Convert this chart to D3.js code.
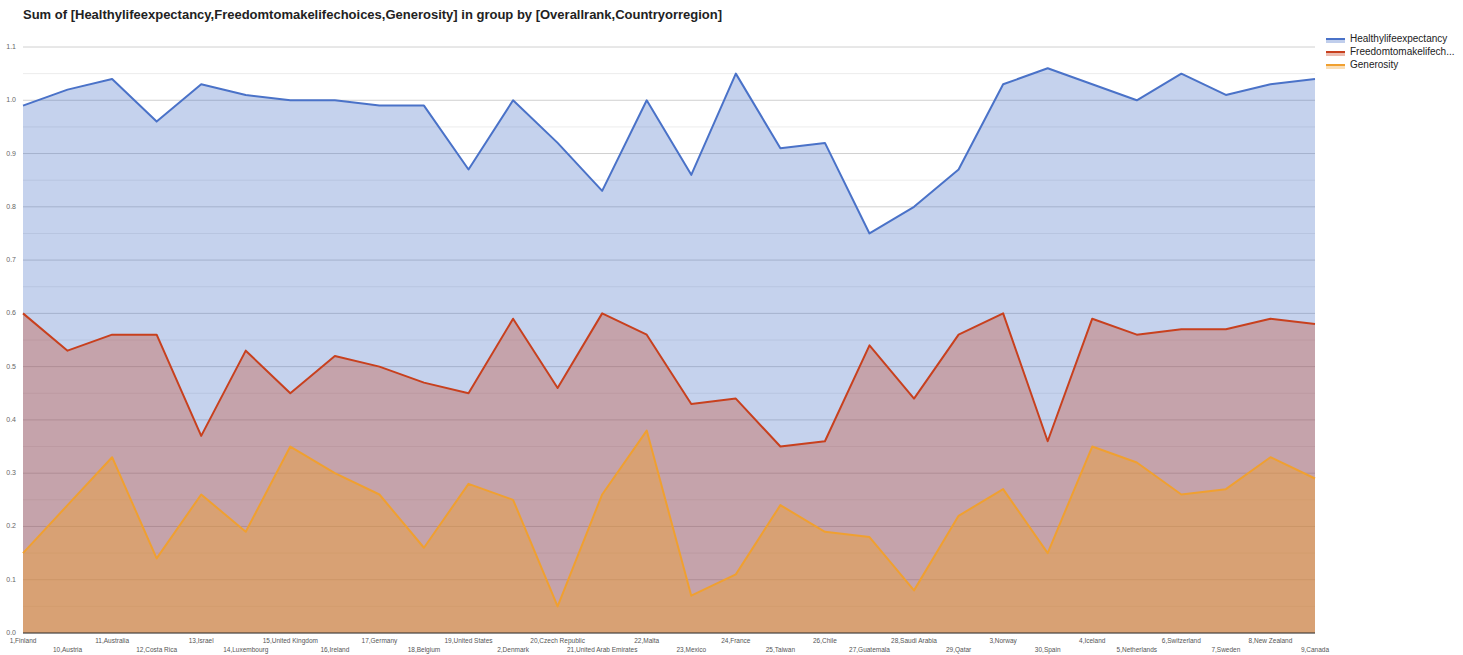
<!DOCTYPE html>
<html>
<head>
<meta charset="utf-8">
<script src="https://cdn.jsdelivr.net/npm/d3@7"></script>
<style>
  body { margin: 0; background: #fff; font-family: Arial, "Liberation Sans", sans-serif; }
  svg { display: block; }
</style>
</head>
<body>
<svg id="chart"></svg>
<script>
// data
var categories = ["1,Finland", "10,Austria", "11,Australia", "12,Costa Rica", "13,Israel", "14,Luxembourg",
  "15,United Kingdom", "16,Ireland", "17,Germany", "18,Belgium", "19,United States", "2,Denmark",
  "20,Czech Republic", "21,United Arab Emirates", "22,Malta", "23,Mexico", "24,France", "25,Taiwan",
  "26,Chile", "27,Guatemala", "28,Saudi Arabia", "29,Qatar", "3,Norway", "30,Spain", "4,Iceland",
  "5,Netherlands", "6,Switzerland", "7,Sweden", "8,New Zealand", "9,Canada"];

var healthy = [0.99, 1.02, 1.04, 0.96, 1.03, 1.01, 1.00, 1.00, 0.99, 0.99, 0.87, 1.00, 0.92, 0.83, 1.00,
  0.86, 1.05, 0.91, 0.92, 0.75, 0.80, 0.87, 1.03, 1.06, 1.03, 1.00, 1.05, 1.01, 1.03, 1.04];
var freedom = [0.60, 0.53, 0.56, 0.56, 0.37, 0.53, 0.45, 0.52, 0.50, 0.47, 0.45, 0.59, 0.46, 0.60, 0.56,
  0.43, 0.44, 0.35, 0.36, 0.54, 0.44, 0.56, 0.60, 0.36, 0.59, 0.56, 0.57, 0.57, 0.59, 0.58];
var generosity = [0.15, 0.24, 0.33, 0.14, 0.26, 0.19, 0.35, 0.30, 0.26, 0.16, 0.28, 0.25, 0.05, 0.26, 0.38,
  0.07, 0.11, 0.24, 0.19, 0.18, 0.08, 0.22, 0.27, 0.15, 0.35, 0.32, 0.26, 0.27, 0.33, 0.29];

var seriesNames = ["Healthylifeexpectancy", "Freedomtomakelifech...", "Generosity"];
var yTicks = [0.0, 0.1, 0.2, 0.3, 0.4, 0.5, 0.6, 0.7, 0.8, 0.9, 1.0, 1.1];

//-------------------
// SETUP
//-------------------
var width = 1463, height = 655;
var margin = { top: 47, right: 148, bottom: 22, left: 23 };

var svg = d3.select("#chart")
    .attr("width", width)
    .attr("height", height);

var x = d3.scalePoint()
    .domain(categories)
    .range([margin.left, width - margin.right]);

var y = d3.scaleLinear()
    .domain([0, 1.1])
    .range([height - margin.bottom, margin.top]);

var colors = ["#4a72c8", "#c8401e", "#f0a030"];

// title
svg.append("text")
    .attr("x", 23)
    .attr("y", 19)
    .style("font-size", "13px")
    .style("font-weight", "bold")
    .attr("fill", "#222")
    .text("Sum of [Healthylifeexpectancy,Freedomtomakelifechoices,Generosity] in group by [Overallrank,Countryorregion]");

//-------------------
// GRIDLINES
//-------------------
var minor = d3.range(0.05, 1.1, 0.1);
svg.append("g").selectAll("line").data(minor).enter()
    .append("line")
    .attr("x1", margin.left).attr("x2", width - margin.right)
    .attr("y1", d => y(d)).attr("y2", d => y(d))
    .attr("stroke", "#ececec").attr("stroke-width", 1);

svg.append("g").selectAll("line").data(yTicks).enter()
    .append("line")
    .attr("x1", margin.left).attr("x2", width - margin.right)
    .attr("y1", d => y(d)).attr("y2", d => y(d))
    .attr("stroke", "#d0d0d0").attr("stroke-width", 1);

// y labels
svg.append("g").selectAll("text").data(yTicks).enter()
    .append("text")
    .attr("x", 16)
    .attr("y", d => y(d) + 2)
    .attr("text-anchor", "end")
    .style("font-size", "7px")
    .attr("fill", "#666")
    .text(d => d.toFixed(1));

//-------------------
// AREAS + LINES
//-------------------
var allSeries = [healthy, freedom, generosity];

var area = d3.area()
    .x((d, i) => x(categories[i]))
    .y0(y(0))
    .y1(d => y(d));

var line = d3.line()
    .x((d, i) => x(categories[i]))
    .y(d => y(d));

allSeries.forEach((s, k) => {
    svg.append("path")
        .datum(s)
        .attr("d", area)
        .attr("fill", colors[k])
        .attr("fill-opacity", k === 2 ? 0.45 : 0.32);
});

allSeries.forEach((s, k) => {
    svg.append("path")
        .datum(s)
        .attr("d", line)
        .attr("fill", "none")
        .attr("stroke", colors[k])
        .attr("stroke-width", 2)
        .attr("stroke-linejoin", "round");
});

// baseline
svg.append("line")
    .attr("x1", margin.left).attr("x2", width - margin.right)
    .attr("y1", y(0)).attr("y2", y(0))
    .attr("stroke", "#333").attr("stroke-width", 1);

//-------------------
// X LABELS
//-------------------
svg.append("g").selectAll("text").data(categories).enter()
    .append("text")
    .attr("x", d => x(d))
    .attr("y", (d, i) => i % 2 === 0 ? y(0) + 10 : y(0) + 19)
    .attr("text-anchor", "middle")
    .style("font-size", "6.5px")
    .attr("fill", "#555")
    .text(d => d);

//-------------------
// LEGEND
//-------------------
var legend = svg.append("g").attr("transform", "translate(1326,39)");
seriesNames.forEach((name, k) => {
    var g = legend.append("g").attr("transform", "translate(0," + (k * 13) + ")");
    g.append("line")
        .attr("x1", 0).attr("x2", 19)
        .attr("y1", 0).attr("y2", 0)
        .attr("stroke", colors[k]).attr("stroke-width", 2);
    g.append("line")
        .attr("x1", 0).attr("x2", 19)
        .attr("y1", 2.5).attr("y2", 2.5)
        .attr("stroke", colors[k]).attr("stroke-opacity", 0.35).attr("stroke-width", 3);
    g.append("text")
        .attr("x", 24)
        .attr("y", 3)
        .style("font-size", "10px")
        .attr("fill", "#222")
        .text(name);
});
</script>
</body>
</html>
